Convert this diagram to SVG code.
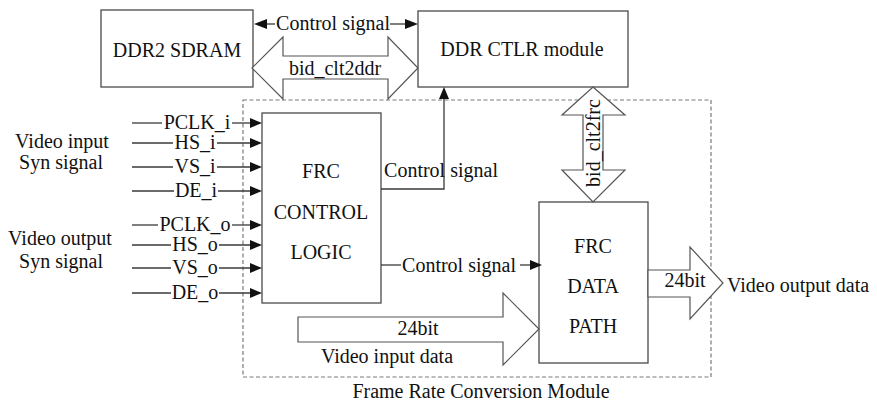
<svg xmlns="http://www.w3.org/2000/svg" width="877" height="403" viewBox="0 0 877 403" font-family="'Liberation Serif', Tinos, 'DejaVu Serif', serif" font-size="20">
  <defs>
    <style>
      .box { fill: #fff; stroke: #4a4a4a; stroke-width: 1.3; }
      .bus { fill: #fff; stroke: #555; stroke-width: 1.2; }
      .wire { fill: none; stroke: #3a3a3a; stroke-width: 1.3; }
      .frame { fill: none; stroke: #7a7a7a; stroke-width: 1.2; stroke-dasharray: 4 2.5; }
      .head { fill: #111; }
      .lbl { fill: #111; }
      .mid { text-anchor: middle; }
    </style>
  </defs>
  <rect width="877" height="403" fill="#fff"/>

  <!-- dashed module boundary -->
  <g id="frc-module">
    <rect class="frame" x="243" y="100" width="468" height="277"/>
    <text class="lbl mid" x="481" y="398">Frame Rate Conversion Module</text>
  </g>

  <g id="ddr2-sdram">
    <rect class="box" x="101" y="10" width="152" height="77"/>
    <text class="lbl mid" x="177" y="57">DDR2 SDRAM</text>
  </g>

  <g id="ddr-ctlr">
    <rect class="box" x="418" y="11" width="210" height="76"/>
    <text class="lbl mid" x="522" y="56">DDR CTLR module</text>
  </g>

  <g id="frc-control-logic">
    <rect class="box" x="262" y="113" width="119" height="190"/>
    <text class="lbl mid" x="321" y="178">FRC</text>
    <text class="lbl mid" x="321" y="219">CONTROL</text>
    <text class="lbl mid" x="321" y="259">LOGIC</text>
  </g>

  <g id="frc-data-path">
    <rect class="box" x="539" y="202" width="109" height="161"/>
    <text class="lbl mid" x="593" y="253">FRC</text>
    <text class="lbl mid" x="593" y="293">DATA</text>
    <text class="lbl mid" x="593" y="333">PATH</text>
  </g>

  <g id="connectors">
    <!-- control signal between SDRAM and controller -->
    <line class="wire" x1="262" y1="24" x2="275" y2="24"/>
    <polygon class="head" points="254,24 267,19 267,29"/>
    <text class="lbl mid" x="333" y="30">Control signal</text>
    <line class="wire" x1="390" y1="24" x2="410" y2="24"/>
    <polygon class="head" points="418,24 405,19 405,29"/>

    <!-- bidirectional bus SDRAM <-> controller -->
    <polygon class="bus" points="252,68 283,37 283,56 388,56 388,37 418,68 388,99 388,79 283,79 283,99"/>
    <text class="lbl mid" x="335" y="75">bid_clt2ddr</text>

    <!-- bidirectional bus controller <-> data path -->
    <polygon class="bus" points="593,87 625,115 603,115 603,170 625,170 593,202 562,170 583,170 583,115 562,115"/>
    <text class="lbl mid" transform="translate(600,143) rotate(-90)">bid_clt2frc</text>

    <!-- control logic -> controller -->
    <polyline class="wire" points="381,189 444,189 444,98"/>
    <polygon class="head" points="444,87 439,99 449,99"/>
    <text class="lbl mid" x="441" y="177">Control signal</text>

    <!-- control logic -> data path -->
    <line class="wire" x1="381" y1="265" x2="401" y2="265"/>
    <text class="lbl mid" x="459" y="272">Control signal</text>
    <line class="wire" x1="520" y1="265" x2="532" y2="265"/>
    <polygon class="head" points="542,265 530,260 530,270"/>

    <!-- video data buses -->
    <polygon class="bus" points="298,317 503,317 503,293 539,329 503,365 503,342 298,342"/>
    <text class="lbl mid" x="418" y="335">24bit</text>
    <text class="lbl mid" x="387" y="363">Video input data</text>

    <polygon class="bus" points="648,270 690,270 690,247 723,283 690,319 690,297 648,297"/>
    <text class="lbl mid" x="685" y="287">24bit</text>
    <text class="lbl" x="727" y="292">Video output data</text>

    <!-- sync inputs -->
    <g id="sync-in">
      <line class="wire" x1="132" y1="123" x2="162" y2="123"/>
      <text class="lbl mid" x="197" y="129">PCLK_i</text>
      <line class="wire" x1="232" y1="123" x2="252" y2="123"/>
      <polygon class="head" points="262,123 250,118 250,128"/>

      <line class="wire" x1="132" y1="143" x2="173" y2="143"/>
      <text class="lbl mid" x="195" y="149">HS_i</text>
      <line class="wire" x1="217" y1="143" x2="252" y2="143"/>
      <polygon class="head" points="262,143 250,138 250,148"/>

      <line class="wire" x1="132" y1="167" x2="173" y2="167"/>
      <text class="lbl mid" x="195" y="173">VS_i</text>
      <line class="wire" x1="217" y1="167" x2="252" y2="167"/>
      <polygon class="head" points="262,167 250,162 250,172"/>

      <line class="wire" x1="132" y1="191" x2="174" y2="191"/>
      <text class="lbl mid" x="196" y="197">DE_i</text>
      <line class="wire" x1="218" y1="191" x2="252" y2="191"/>
      <polygon class="head" points="262,191 250,186 250,196"/>

      <text class="lbl mid" x="62" y="148">Video input</text>
      <text class="lbl mid" x="61" y="169">Syn signal</text>
    </g>

    <!-- sync outputs -->
    <g id="sync-out">
      <line class="wire" x1="132" y1="225" x2="158" y2="225"/>
      <text class="lbl mid" x="195" y="231">PCLK_o</text>
      <line class="wire" x1="232" y1="225" x2="252" y2="225"/>
      <polygon class="head" points="262,225 250,220 250,230"/>

      <line class="wire" x1="132" y1="245" x2="171" y2="245"/>
      <text class="lbl mid" x="195" y="251">HS_o</text>
      <line class="wire" x1="219" y1="245" x2="252" y2="245"/>
      <polygon class="head" points="262,245 250,240 250,250"/>

      <line class="wire" x1="132" y1="268" x2="171" y2="268"/>
      <text class="lbl mid" x="195" y="274">VS_o</text>
      <line class="wire" x1="219" y1="268" x2="252" y2="268"/>
      <polygon class="head" points="262,268 250,263 250,273"/>

      <line class="wire" x1="132" y1="293" x2="171" y2="293"/>
      <text class="lbl mid" x="195" y="299">DE_o</text>
      <line class="wire" x1="219" y1="293" x2="252" y2="293"/>
      <polygon class="head" points="262,293 250,288 250,298"/>

      <text class="lbl mid" x="60" y="245">Video output</text>
      <text class="lbl mid" x="61" y="268">Syn signal</text>
    </g>
  </g>
</svg>
